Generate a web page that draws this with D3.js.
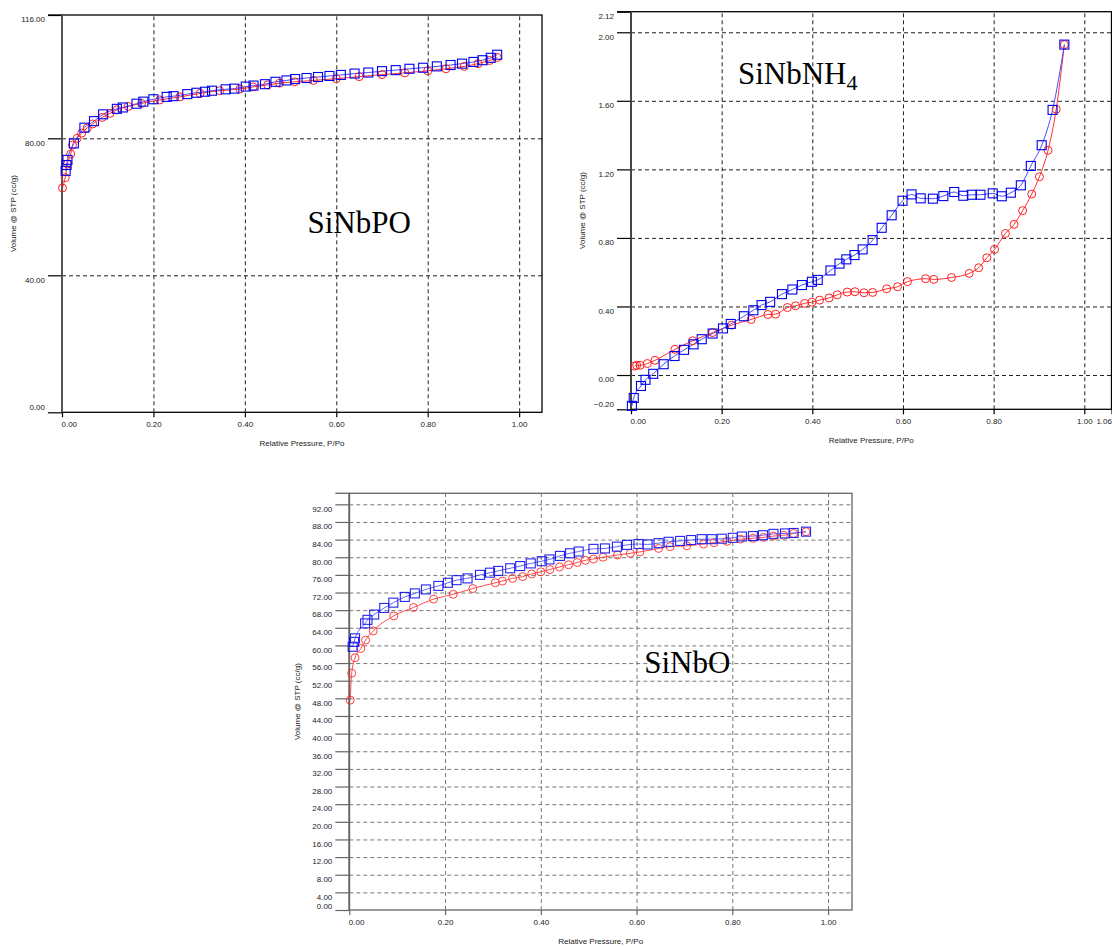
<!DOCTYPE html>
<html>
<head>
<meta charset="utf-8">
<script src="https://cdn.jsdelivr.net/npm/d3@7"></script>
<style>
  body { margin: 0; background: #fff; }
  svg { display: block; }
</style>
</head>
<body>
<div id="chart"></div>
<script>
// tick values
const xTicks = [0, 0.2, 0.4, 0.6, 0.8, 1.0];
const nh4XTicks = [0, 0.2, 0.4, 0.6, 0.8, 1.0, 1.06];
const poYTicks = [0, 40, 80, 116];
const nh4YTicks = [-0.2, 0, 0.4, 0.8, 1.2, 1.6, 2.0, 2.12];
const oYTicks = [0, 4, 8, 12, 16, 20, 24, 28, 32, 36, 40, 44, 48, 52, 56, 60, 64, 68, 72, 76, 80, 84, 88, 92];

// SiNbPO  [P/Po, volume]
const poAds = [[0.001,65.5],[0.007,68.5],[0.012,72.5],[0.019,75.4],[0.023,78.0],[0.033,80.0],[0.043,81.5],[0.055,83.0],
  [0.067,84.2],[0.088,86.1],[0.105,87.3],[0.12,88.3],[0.145,89.3],[0.174,90.2],[0.214,91.2],[0.258,92.1],[0.302,93.1],
  [0.345,93.9],[0.389,94.4],[0.418,95.0],[0.45,95.6],[0.476,96.1],[0.509,96.5],[0.55,96.9],[0.6,97.4],[0.65,98.0],
  [0.7,98.6],[0.75,99.1],[0.8,99.7],[0.84,100.3],[0.88,101.0],[0.91,101.8],[0.935,102.7],[0.952,103.6]];
const poDes = [[0.008,70.5],[0.01,72.2],[0.012,73.7],[0.026,78.5],[0.049,83.1],[0.07,85.0],[0.09,87.0],[0.12,88.6],
  [0.133,89.0],[0.163,90.1],[0.178,90.7],[0.2,91.4],[0.229,92.1],[0.244,92.3],[0.274,92.9],[0.294,93.3],[0.313,93.6],
  [0.328,93.9],[0.358,94.3],[0.377,94.5],[0.402,95.1],[0.419,95.4],[0.444,95.8],[0.467,96.5],[0.491,96.9],[0.51,97.3],
  [0.535,97.6],[0.56,97.9],[0.585,98.2],[0.61,98.5],[0.64,98.9],[0.67,99.2],[0.7,99.6],[0.73,99.9],[0.76,100.3],
  [0.79,100.6],[0.82,101.0],[0.85,101.4],[0.875,101.8],[0.9,102.3],[0.92,102.8],[0.938,103.5],[0.952,104.4]];

// SiNbNH4
const nh4Ads = [[0.008,0.052],[0.0125,0.057],[0.02,0.057],[0.036,0.067],[0.053,0.086],[0.097,0.15],[0.136,0.2],
  [0.18,0.248],[0.222,0.291],[0.265,0.324],[0.302,0.353],[0.319,0.355],[0.345,0.394],[0.363,0.404],[0.383,0.418],
  [0.399,0.425],[0.416,0.437],[0.437,0.45],[0.455,0.468],[0.477,0.484],[0.494,0.486],[0.514,0.48],[0.533,0.482],
  [0.564,0.503],[0.588,0.515],[0.61,0.545],[0.65,0.562],[0.668,0.558],[0.707,0.569],[0.746,0.593],[0.767,0.626],
  [0.785,0.684],[0.802,0.733],[0.826,0.826],[0.845,0.879],[0.864,0.959],[0.884,1.056],[0.901,1.157],[0.92,1.311],
  [0.938,1.551],[0.956,1.928]];
const nh4Des = [[0.002,-0.18],[0.006,-0.134],[0.022,-0.064],[0.032,-0.028],[0.049,0.007],[0.072,0.063],[0.096,0.111],
  [0.117,0.147],[0.138,0.179],[0.156,0.209],[0.18,0.242],[0.203,0.272],[0.22,0.298],[0.249,0.343],[0.27,0.378],
  [0.288,0.408],[0.307,0.427],[0.333,0.472],[0.356,0.499],[0.377,0.525],[0.399,0.544],[0.412,0.555],[0.44,0.61],
  [0.46,0.65],[0.475,0.675],[0.493,0.7],[0.511,0.733],[0.533,0.787],[0.553,0.859],[0.575,0.932],[0.599,1.017],
  [0.619,1.054],[0.639,1.031],[0.666,1.029],[0.689,1.044],[0.713,1.068],[0.733,1.046],[0.752,1.052],[0.771,1.052],
  [0.798,1.06],[0.818,1.043],[0.838,1.064],[0.86,1.107],[0.882,1.22],[0.906,1.341],[0.93,1.547],[0.956,1.928]];

// SiNbO
const oAds = [[0.002,47.6],[0.005,53.7],[0.012,57.2],[0.024,59.3],[0.034,61.2],[0.05,63.3],[0.093,66.7],[0.134,68.6],
  [0.176,70.5],[0.217,71.6],[0.258,72.9],[0.305,74.2],[0.32,74.6],[0.341,75.2],[0.362,75.6],[0.381,76.2],[0.4,76.7],
  [0.419,77.2],[0.439,77.8],[0.458,78.3],[0.476,78.8],[0.493,79.3],[0.51,79.6],[0.53,80.0],[0.56,80.5],[0.587,80.9],
  [0.607,81.2],[0.646,82.0],[0.67,82.4],[0.705,82.6],[0.74,83.0],[0.762,83.3],[0.789,83.6],[0.817,84.1],[0.843,84.3],
  [0.865,84.5],[0.886,84.8],[0.907,85.0],[0.928,85.4],[0.954,85.8]];
const oDes = [[0.007,59.7],[0.01,60.8],[0.012,61.6],[0.033,65.0],[0.038,65.8],[0.052,67.0],[0.073,68.5],[0.092,69.7],
  [0.116,71.0],[0.137,71.8],[0.16,72.7],[0.186,73.5],[0.206,74.2],[0.224,74.8],[0.247,75.2],[0.273,76.0],[0.294,76.5],
  [0.311,76.9],[0.336,77.5],[0.357,78.0],[0.379,78.6],[0.402,79.1],[0.418,79.5],[0.44,80.3],[0.461,80.9],[0.479,81.3],
  [0.51,81.9],[0.534,82.0],[0.559,82.4],[0.58,82.8],[0.604,83.0],[0.623,82.9],[0.646,83.2],[0.667,83.5],[0.691,83.7],
  [0.714,83.9],[0.736,84.1],[0.757,84.1],[0.778,84.2],[0.801,84.4],[0.82,84.7],[0.843,84.8],[0.864,85.0],[0.886,85.3],
  [0.91,85.4],[0.928,85.5],[0.954,85.8]];

const W = 1112, H = 946;
const svg = d3.select("#chart").append("svg")
  .attr("width", W)
  .attr("height", H);

const fmt = d3.format(".2f");
const tickFont = "Liberation Sans, Arial, sans-serif";

function panel(cfg) {
  const x = d3.scaleLinear().domain(cfg.xDomain).range([cfg.left, cfg.right]);
  const y = d3.scaleLinear().domain(cfg.yDomain).range([cfg.bottom, cfg.top]);
  const g = svg.append("g");
  const ink = cfg.ink, grid = cfg.grid;
  const yMin = cfg.yDomain[0], yMax = cfg.yDomain[1];
  const xMin = cfg.xDomain[0], xMax = cfg.xDomain[1];

  // dashed grid
  g.append("g")
    .attr("transform", `translate(${cfg.left},0)`)
    .call(d3.axisLeft(y).tickValues(cfg.yTicks.filter(t => t > yMin && t < yMax))
      .tickSize(-(cfg.right - cfg.left)).tickFormat(""))
    .call(a => a.select(".domain").remove())
    .selectAll("line").attr("stroke", grid).attr("stroke-dasharray", "4,3");
  g.append("g")
    .attr("transform", `translate(0,${cfg.bottom})`)
    .call(d3.axisBottom(x).tickValues(cfg.xTicks.filter(t => t > xMin && t < xMax))
      .tickSize(-(cfg.bottom - cfg.top)).tickFormat(""))
    .call(a => a.select(".domain").remove())
    .selectAll("line").attr("stroke", grid).attr("stroke-dasharray", "4,3");

  // y ticks + labels
  const ya = g.append("g")
    .attr("transform", `translate(${cfg.left},0)`)
    .call(d3.axisLeft(y).tickValues(cfg.yTicks).tickSize(14).tickPadding(3).tickFormat(fmt));
  ya.select(".domain").remove();
  ya.selectAll("line").attr("stroke", ink).attr("stroke-width", 1.2);
  ya.selectAll("text")
    .attr("fill", "#222")
    .style("font-family", tickFont)
    .style("font-size", "8px")
    .attr("dy", d => d === yMin ? (cfg.minDy || "-0.3em") : "0.85em");

  // x ticks + labels
  const xa = g.append("g")
    .attr("transform", `translate(0,${cfg.bottom})`)
    .call(d3.axisBottom(x).tickValues(cfg.xTicks).tickSize(5).tickPadding(4).tickFormat(fmt));
  xa.select(".domain").remove();
  xa.selectAll("line").attr("stroke", ink).attr("stroke-width", 1.2);
  xa.selectAll("text")
    .attr("fill", "#222")
    .style("font-family", tickFont)
    .style("font-size", "8px")
    .attr("text-anchor", d => d === xMin ? "start" : (d === xMax ? "end" : "middle"))
    .attr("x", d => d === xMin ? -1 : 0);

  // frame
  g.append("rect")
    .attr("x", x(xMin)).attr("y", y(yMax))
    .attr("width", x(xMax) - x(xMin)).attr("height", y(yMin) - y(yMax))
    .attr("fill", "none").attr("stroke", ink).attr("stroke-width", 1.3);
  g.append("line")
    .attr("x1", x(xMin) - 14).attr("x2", x(xMin))
    .attr("y1", y(yMax)).attr("y2", y(yMax))
    .attr("stroke", ink).attr("stroke-width", 1.3);
  g.append("line")
    .attr("x1", x(xMin)).attr("x2", x(xMin))
    .attr("y1", y(yMax)).attr("y2", y(yMin))
    .attr("stroke", cfg.axisInk).attr("stroke-width", 1.8);

  // axis titles
  g.append("text")
    .attr("x", (cfg.left + cfg.right) / 2)
    .attr("y", cfg.bottom + 34)
    .attr("text-anchor", "middle")
    .attr("fill", "#222")
    .style("font-family", tickFont)
    .style("font-size", "8px")
    .text("Relative Pressure, P/Po");
  g.append("text")
    .attr("transform", `translate(${cfg.yTitleX},${(cfg.top + cfg.bottom) / 2}) rotate(-90)`)
    .attr("text-anchor", "middle")
    .attr("fill", "#222")
    .style("font-family", tickFont)
    .style("font-size", "8px")
    .text("Volume @ STP (cc/g)");

  // series
  const line = d3.line().x(d => x(d[0])).y(d => y(d[1])).curve(d3.curveMonotoneX);
  const plot = g.append("g").attr("opacity", cfg.opacity || 1);

  plot.append("path").datum(cfg.ads)
    .attr("fill", "none").attr("stroke", "#ff3030").attr("stroke-width", 1).attr("d", line);
  plot.append("path").datum(cfg.des)
    .attr("fill", "none").attr("stroke", "#4a4aff").attr("stroke-width", 1).attr("d", line);

  plot.selectAll("circle").data(cfg.ads).enter().append("circle")
    .attr("cx", d => x(d[0])).attr("cy", d => y(d[1]))
    .attr("r", cfg.r)
    .attr("fill", "none").attr("stroke", "#ff2020").attr("stroke-width", 1);

  const s = cfg.sq;
  plot.selectAll("rect.sq").data(cfg.des).enter().append("rect")
    .attr("class", "sq")
    .attr("x", d => x(d[0]) - s / 2).attr("y", d => y(d[1]) - s / 2)
    .attr("width", s).attr("height", s)
    .attr("fill", "none").attr("stroke", "#0000ee").attr("stroke-width", 1.1);

  // sample label
  const lab = g.append("text")
    .attr("x", x(cfg.label.at[0])).attr("y", y(cfg.label.at[1]))
    .attr("text-anchor", "start")
    .attr("fill", "#000")
    .style("font-family", "Liberation Serif, Times New Roman, serif")
    .style("font-size", "31px");
  lab.append("tspan").text(cfg.label.text);
  if (cfg.label.sub) {
    lab.append("tspan").attr("dy", "0.3em").style("font-size", "22px").text(cfg.label.sub);
  }
}

panel({
  left: 62, right: 542, top: 15, bottom: 412.3,
  xDomain: [0, 1.05], yDomain: [0, 116],
  xTicks: xTicks, yTicks: poYTicks,
  ads: poAds, des: poDes,
  ink: "#000", grid: "#222", axisInk: "#555",
  r: 4, sq: 9, yTitleX: 16,
  label: { text: "SiNbPO", at: [0.537, 52.3] }
});

panel({
  left: 631, right: 1111.5, top: 11.7, bottom: 409.3,
  xDomain: [0, 1.06], yDomain: [-0.2, 2.12],
  xTicks: nh4XTicks, yTicks: nh4YTicks,
  ads: nh4Ads, des: nh4Des,
  ink: "#000", grid: "#222", axisInk: "#444",
  r: 4, sq: 9, yTitleX: 585,
  label: { text: "SiNbNH", sub: "4", at: [0.236, 1.70] }
});

panel({
  left: 349.3, right: 852, top: 493.3, bottom: 910,
  xDomain: [0, 1.05], yDomain: [0, 94.5],
  xTicks: xTicks, yTicks: oYTicks,
  ads: oAds, des: oDes,
  ink: "#666", grid: "#777", axisInk: "#666",
  r: 4, sq: 9, yTitleX: 300, opacity: 0.85, minDy: "-0.15em",
  label: { text: "SiNbO", at: [0.616, 53.7] }
});
</script>
</body>
</html>
